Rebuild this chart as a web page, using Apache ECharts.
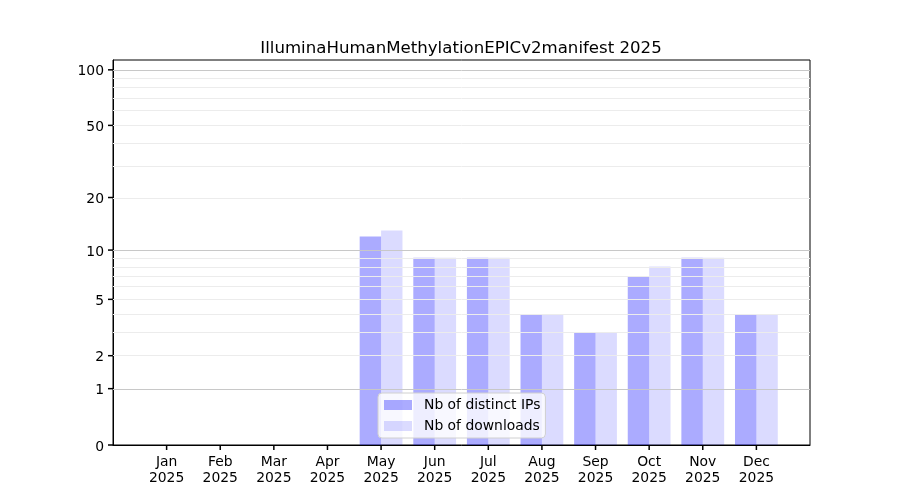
<!DOCTYPE html>
<html>
<head>
<meta charset="utf-8">
<script src="https://cdn.jsdelivr.net/npm/echarts@6/dist/echarts.min.js"></script>
<style>
  html, body { margin: 0; padding: 0; background: #fff; }
  #chart { width: 900px; height: 500px; }
</style>
</head>
<body>
<div id="chart"></div>
<script>
const months = ['Jan', 'Feb', 'Mar', 'Apr', 'May', 'Jun', 'Jul', 'Aug', 'Sep', 'Oct', 'Nov', 'Dec']
const distinctIPs = [0, 0, 0, 0, 12, 9, 9, 4, 3, 7, 9, 4]
const downloads = [0, 0, 0, 0, 13, 9, 9, 4, 3, 8, 9, 4]
const yTicks = [0, 1, 2, 5, 10, 20, 50, 100]
const majorGrid = [1, 10, 100]
const minorGrid = [2, 3, 4, 5, 6, 7, 8, 9, 20, 30, 40, 50, 60, 70, 80, 90]
const yMax = 113

// y axis is log10(1 + x)
const tr = v => Math.log10(1 + v)
const untr = v => Math.round(Math.pow(10, v) - 1)

const font = 'DejaVu Sans'
const chart = echarts.init(document.getElementById('chart'))

const gridLine = (vals, color) => vals.map(v => ({
  yAxis: tr(v),
  lineStyle: { color: color, width: 1, type: 'solid' }
}))

const option = {
  animation: false,
  title: {
    text: 'IlluminaHumanMethylationEPICv2manifest 2025',
    left: 456,
    textAlign: 'center',
    top: 35,
    textStyle: { fontFamily: font, fontSize: 16.6, fontWeight: 'normal', color: '#000' }
  },
  grid: {
    left: 113, right: 90, top: 60, bottom: 55,
    show: true, borderColor: '#000', borderWidth: 1, backgroundColor: 'transparent'
  },
  legend: {
    orient: 'vertical',
    left: 378,
    top: 393,
    data: ['Nb of distinct IPs', 'Nb of downloads'],
    icon: 'rect',
    itemWidth: 28,
    itemHeight: 10,
    itemGap: 7,
    padding: [5, 5, 5, 6],
    backgroundColor: 'rgba(255,255,255,0.8)',
    borderColor: '#d0d0d0',
    borderWidth: 1,
    borderRadius: 4,
    formatter: name => '{t|' + name + '}',
    textStyle: {
      fontFamily: font, fontSize: 13.9, color: '#000',
      rich: { t: { fontFamily: font, fontSize: 13.9, color: '#000', padding: [0, 0, 0, 7] } }
    }
  },
  xAxis: {
    type: 'value',
    min: -1,
    max: 12,
    splitLine: { show: false },
    axisLine: { show: true, onZero: false, lineStyle: { color: '#000' } },
    axisTick: { show: false },
    axisLabel: {
      customValues: months.map((m, i) => i),
      formatter: v => months[v] + '\n2025',
      fontFamily: font, fontSize: 13.9, color: '#000', lineHeight: 16, margin: 9
    }
  },
  yAxis: {
    type: 'value',
    min: 0,
    max: tr(yMax),
    splitLine: { show: false },
    axisLine: { show: true, onZero: false, lineStyle: { color: '#000' } },
    axisTick: { show: false },
    axisLabel: {
      customValues: yTicks.map(tr),
      formatter: v => '{a|' + untr(v) + '}',
      margin: 9,
      rich: { a: { fontFamily: font, fontSize: 13.9, color: '#000', padding: [4, 0, 0, 0] } }
    }
  },
  series: [
    {
      name: 'grid',
      type: 'line',
      data: [],
      z: 1,
      silent: true,
      markLine: {
        silent: true,
        symbol: 'none',
        label: { show: false },
        data: gridLine(minorGrid, '#ececec').concat(gridLine(majorGrid, '#c8c8c8'))
      }
    },
    {
      name: 'Nb of distinct IPs',
      type: 'bar',
      z: 2,
      barWidth: 21.4,
      barGap: '0%',
      itemStyle: { color: 'rgba(0,0,255,0.33)' },
      data: distinctIPs.map((v, i) => [i, tr(v)])
    },
    {
      name: 'Nb of downloads',
      type: 'bar',
      z: 2,
      barWidth: 21.4,
      barGap: '0%',
      itemStyle: { color: 'rgba(0,0,255,0.14)' },
      data: downloads.map((v, i) => [i, tr(v)])
    }
  ]
}
chart.setOption(option)

// tick marks outside the plot, placed with the chart's own scales
const tick = (pt, dx, dy) => {
  const p = chart.convertToPixel({ gridIndex: 0 }, pt)
  return {
    type: 'line',
    silent: true,
    z: 100,
    shape: { x1: p[0], y1: p[1], x2: p[0] + dx, y2: p[1] + dy },
    style: { stroke: '#000', lineWidth: 1.5 }
  }
}
const ticks = yTicks.map(t => tick([-1, tr(t)], -5, 0))
  .concat(months.map((m, i) => tick([i, 0], 0, 5)))
chart.setOption({ graphic: ticks })
</script>
</body>
</html>
